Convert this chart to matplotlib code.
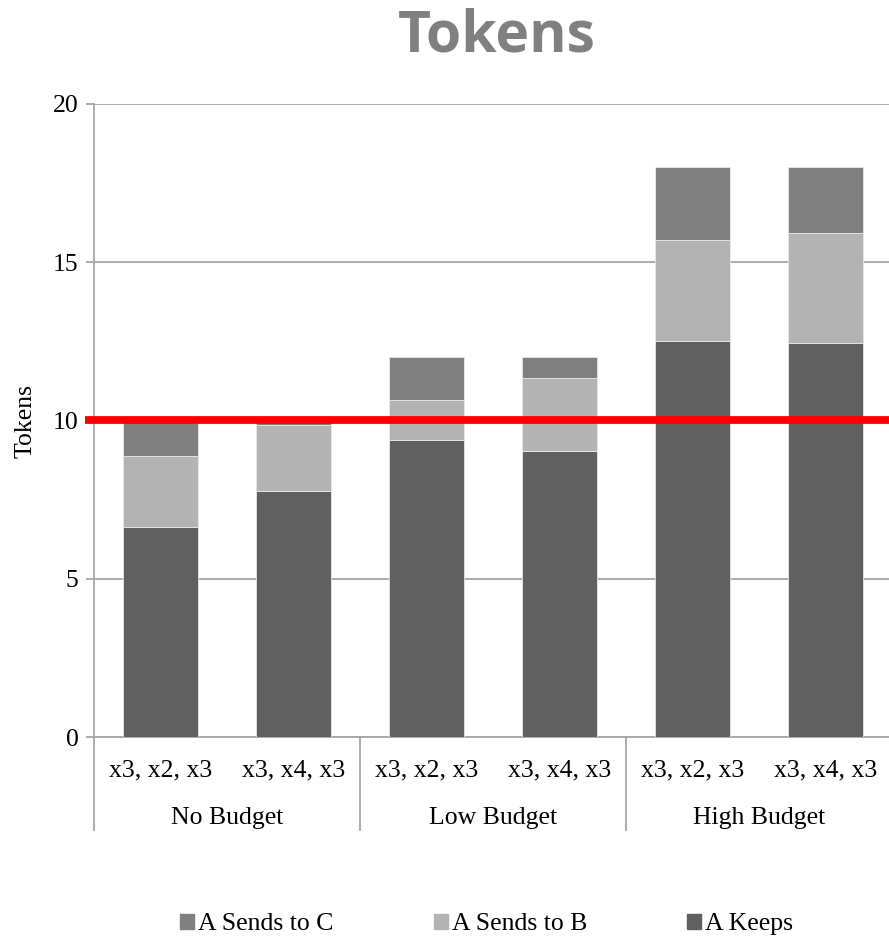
import matplotlib
matplotlib.use('Agg')
import matplotlib.pyplot as plt
from matplotlib.patches import Patch
import numpy as np

groups = ['No Budget', 'Low Budget', 'High Budget']
conditions = ['x3, x2, x3', 'x3, x4, x3'] * 3

keeps = [6.65, 7.77, 9.39, 9.05, 12.52, 12.44]
sends_b = [2.22, 2.10, 1.26, 2.30, 3.18, 3.49]
sends_c = [1.13, 0.10, 1.35, 0.65, 2.30, 2.07]
threshold = 10

c_keeps = '#606060'
c_b = '#b3b3b3'
c_c = '#808080'
grid_c = '#a6a6a6'

plt.rcParams['font.family'] = ['Liberation Serif', 'DejaVu Serif']
fs = 18.5

fig = plt.figure(figsize=(8.89, 9.38), dpi=100)
ax = fig.add_axes([94 / 889, 201 / 938, 798 / 889, 633 / 938])

x = np.arange(len(keeps))
w = 0.57
keeps = np.array(keeps)
sends_b = np.array(sends_b)
sends_c = np.array(sends_c)
ax.bar(x, keeps, w, color=c_keeps, edgecolor='#e8e8e8', linewidth=0.6, zorder=3)
ax.bar(x, sends_b, w, bottom=keeps, color=c_b, edgecolor='#e8e8e8', linewidth=0.6, zorder=3)
ax.bar(x, sends_c, w, bottom=keeps + sends_b, color=c_c, edgecolor='#e8e8e8', linewidth=0.6, zorder=3)

# reference level
ax.plot([-0.57, 5.5], [threshold, threshold], color='#ff0000', lw=5.6,
        solid_capstyle='butt', zorder=5, clip_on=False)

ax.set_xlim(-0.5, 5.5)
ax.set_ylim(0, 20)
ax.set_yticks([0, 5, 10, 15, 20])
ax.yaxis.grid(True, color=grid_c, lw=1.3, zorder=0)
ax.tick_params(axis='y', labelsize=fs, color=grid_c, length=6, width=1.3, pad=5)
ax.set_xticks(x)
ax.set_xticklabels(conditions, fontsize=fs)
ax.tick_params(axis='x', length=0, pad=16)
for s in ['top', 'right']:
    ax.spines[s].set_visible(False)
for s in ['left', 'bottom']:
    ax.spines[s].set_color(grid_c)
    ax.spines[s].set_linewidth(1.3)
ax.set_ylabel('Tokens', fontsize=fs, labelpad=12)

# group separators and group names
trans = ax.get_xaxis_transform()
for b in [-0.5, 1.5, 3.5, 5.5]:
    ax.plot([b, b], [0, -0.147], color=grid_c, lw=1.3, transform=trans, clip_on=False)
for i, g in enumerate(groups):
    ax.text(2 * i + 0.5, -0.128, g, fontsize=fs, ha='center', va='center', transform=trans)

fig.text(0.5585, 0.961, 'Tokens', fontsize=41, fontweight='bold', color='#808080',
         ha='center', va='center', family=['Open Sans', 'DejaVu Sans'])

handles = [Patch(color=c_c), Patch(color=c_b), Patch(color=c_keeps)]
labels = ['A Sends to C', 'A Sends to B', 'A Keeps']
fig.legend(handles, labels, loc='center', bbox_to_anchor=(0.5475, 0.0145), ncol=3,
           frameon=False, fontsize=fs, handlelength=0.55, handleheight=0.55,
           handletextpad=0.15, columnspacing=3.9)

fig.savefig('out.png', dpi=100)
